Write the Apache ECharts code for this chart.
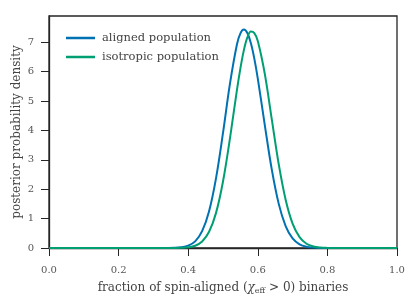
<!DOCTYPE html>
<html><head><meta charset="utf-8">
<script src="https://cdn.jsdelivr.net/npm/echarts@6/dist/echarts.min.js"></script>
<style>html,body{margin:0;padding:0;background:#fff}#c{width:416px;height:304px}</style>
</head><body><div id="c"></div>
<script>
var xs = [0, 0.1, 0.2, 0.3, 0.32, 0.34, 0.36, 0.38, 0.40, 0.42, 0.44, 0.46, 0.48, 0.50, 0.52, 0.54, 0.55, 0.56, 0.57, 0.58, 0.59, 0.60, 0.62, 0.64, 0.66, 0.68, 0.70, 0.72, 0.74, 0.76, 0.78, 0.80, 0.82, 0.84, 0.9, 1.0];
var aligned = [0,0,0,0,0,0.001,0.006,0.023,0.078,0.227,0.573,1.253,2.378,3.914,5.587,6.92,7.30,7.43,7.31,6.97,6.44,5.76,4.19,2.68,1.509,0.748,0.326,0.125,0.042,0.013,0.003,0.001,0,0,0,0];
var isotropic = [0,0,0,0,0,0,0.001,0.006,0.024,0.077,0.221,0.551,1.195,2.263,3.73,5.37,6.11,6.73,7.16,7.36,7.31,7.04,5.93,4.39,2.86,1.644,0.83,0.37,0.145,0.05,0.015,0.004,0.001,0,0,0];
var seriesNames = ['aligned population', 'isotropic population'];
var xTitle = 'fraction of spin-aligned ({m|χ}{s|eff} > 0) binaries';
var yTitle = 'posterior probability density';

var FONT = '"DejaVu Serif", "Liberation Serif", serif';
function pairs(ys){ return xs.map(function(x,i){ return [x, ys[i]]; }); }
var chart = echarts.init(document.getElementById('c'), null, {renderer:'canvas'});
chart.setOption({
  animation: false,
  backgroundColor: '#fff',
  grid: {left: 49, right: 19, top: 16, bottom: 56, show: true, borderColor: '#262626', borderWidth: 1.3, containLabel: false, outerBoundsMode: 'none'},
  legend: {
    orient: 'vertical', left: 61, top: 25, itemWidth: 29, itemHeight: 2.5, itemGap: 3,
    icon: 'rect',
    textStyle: {fontFamily: FONT, fontSize: 11.5, color: '#444', lineHeight: 16, padding: [0,0,0,2]},
    data: seriesNames
  },
  xAxis: {
    type: 'value', min: 0, max: 1, interval: 0.2,
    name: xTitle, nameLocation: 'middle', nameGap: 33,
    nameTextStyle: {fontFamily: FONT, fontSize: 12, color: '#444',
      rich: {m: {fontFamily: FONT, fontSize: 12, fontStyle: 'italic', color: '#444'},
             s: {fontFamily: FONT, fontSize: 8, color: '#444', padding: [6,0,0,0]}}},
    axisLine: {show: true, lineStyle: {color: '#262626', width: 1.3}},
    axisTick: {show: true, inside: false, length: 8, lineStyle: {color: '#262626', width: 1}},
    axisLabel: {fontFamily: FONT, fontSize: 10, color: '#555', margin: 17, formatter: function(v){ return v.toFixed(1); }},
    splitLine: {show: false}
  },
  yAxis: {
    type: 'value', min: 0, max: 7.89, interval: 1,
    name: yTitle, nameLocation: 'middle', nameGap: 26, nameMoveOverlap: false,
    nameTextStyle: {fontFamily: FONT, fontSize: 12, color: '#444'},
    axisLine: {show: true, lineStyle: {color: '#262626', width: 1.3}},
    axisTick: {show: true, inside: false, length: 8, lineStyle: {color: '#262626', width: 1}},
    axisLabel: {fontFamily: FONT, fontSize: 10, color: '#555', margin: 15, showMaxLabel: false, formatter: function(v){ return Math.round(v)===v ? String(v) : ''; }},
    splitLine: {show: false}
  },
  series: [
    {name: seriesNames[0], type: 'line', data: pairs(aligned), showSymbol: false, smooth: 0.35,
     lineStyle: {color: '#0072B2', width: 2}, itemStyle: {color: '#0072B2'}},
    {name: seriesNames[1], type: 'line', data: pairs(isotropic), showSymbol: false, smooth: 0.35,
     lineStyle: {color: '#009E73', width: 2}, itemStyle: {color: '#009E73'}}
  ]
});
</script></body></html>
